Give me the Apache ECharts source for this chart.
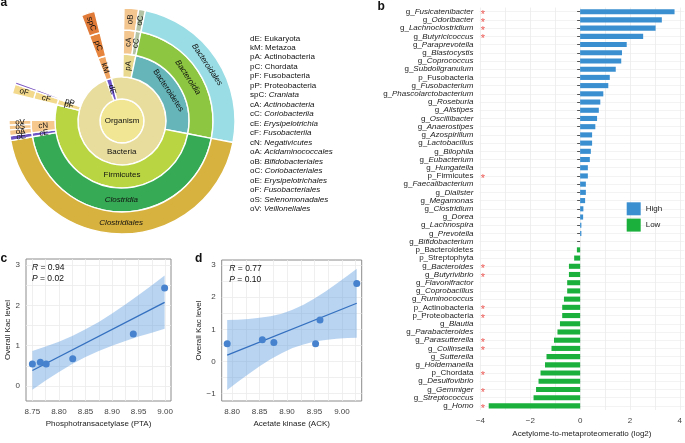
<!DOCTYPE html>
<html>
<head>
<meta charset="utf-8">
<script src="https://cdn.jsdelivr.net/npm/echarts@6/dist/echarts.min.js"></script>
<style>html,body{margin:0;padding:0;background:#fff}#main{width:685px;height:443px}</style>
</head>
<body>
<div id="main"></div>
<script>
var FONT = 'Liberation Sans, Arial, sans-serif';

// ---- a: taxonomy sunburst (values ~ angular share, degrees) ----
var taxonNames   = ['Organism','Bacteria','gap','pA','cA','oB','cC','oC','Bacteroidetes','Bacteroidia','Bacteroidales','Firmicutes','Clostridia','Clostridiales','cE','oE','cN','oA','oS','oV','pF','cF','oF','pP','pP_c','pP_o','dE','kM','pC','spC'];
var taxonParents = ['','Organism','Bacteria','Bacteria','pA','cA','pA','cC','Bacteria','Bacteroidetes','Bacteroidia','Bacteria','Firmicutes','Clostridia','Firmicutes','cE','Firmicutes','cN','cN','cN','Bacteria','pF','cF','Bacteria','pP','pP_c','Organism','dE','kM','pC'];
var taxonValues  = [360,353,15,11,7.5,7.5,3.5,3.5,89,89,89,183,159,159,2.5,2.5,8,3,2.5,2.5,5,5,5,1.3,1.3,1.3,7,7,7,7];

var legendCodes = ['dE','kM','pA','pC','pF','pP','spC','cA','cC','cE','cF','cN','oA','oB','oC','oE','oF','oS','oV'];
var legendTaxa  = ['Eukaryota','Metazoa','Actinobacteria','Chordata','Fusobacteria','Proteobacteria','Craniata','Actinobacteria','Coriobacteriia','Erysipelotrichia','Fusobacteriia','Negativicutes','Acidaminococcales','Bifidobacteriales','Coriobacteriales','Erysipelotrichales','Fusobacteriales','Selenomonadales','Veillonellales'];

// ---- b: acetylome / metaproteome ratio ----
var bTaxa = ['g_Fusicatenibacter','g_Odoribacter','g_Lachnoclostridium','g_Butyricicoccus','g_Paraprevotella','g_Blastocystis','g_Coprococcus','g_Subdoligranulum','p_Fusobacteria','g_Fusobacterium','g_Phascolarctobacterium','g_Roseburia','g_Alistipes','g_Oscillibacter','g_Anaerostipes','g_Azospirillum','g_Lactobacillus','g_Bilophila','g_Eubacterium','g_Hungatella','p_Firmicutes','g_Faecalibacterium','g_Dialister','g_Megamonas','g_Clostridium','g_Dorea','g_Lachnospira','g_Prevotella','g_Bifidobacterium','p_Bacteroidetes','p_Streptophyta','g_Bacteroides','g_Butyrivibrio','g_Flavonifractor','g_Coprobacillus','g_Ruminococcus','p_Actinobacteria','p_Proteobacteria','g_Blautia','g_Parabacteroides','g_Parasutterella','g_Collinsella','g_Sutterella','g_Holdemanella','p_Chordata','g_Desulfovibrio','g_Gemmiger','g_Streptococcus','g_Homo'];
var bRatio = [3.79,3.28,3.03,2.53,1.87,1.68,1.65,1.43,1.19,1.13,0.93,0.81,0.75,0.68,0.61,0.48,0.48,0.43,0.39,0.31,0.31,0.23,0.23,0.20,0.13,0.12,0.05,0.05,0,-0.13,-0.24,-0.45,-0.45,-0.52,-0.52,-0.65,-0.72,-0.72,-0.81,-0.91,-1.05,-1.15,-1.35,-1.41,-1.59,-1.67,-1.77,-1.87,-3.67];
var bStarred = ['g_Fusicatenibacter','g_Odoribacter','g_Lachnoclostridium','g_Butyricicoccus','p_Firmicutes','g_Bacteroides','g_Butyrivibrio','p_Actinobacteria','p_Proteobacteria','g_Parasutterella','g_Collinsella','p_Chordata','g_Gemmiger','g_Homo'];

// ---- c, d: Kac level vs enzyme abundance ----
var kacLevel = [0.55,0.59,0.55,0.68,1.29,2.43];
var ptaLevel = [8.750,8.765,8.776,8.826,8.940,8.999];
var ackLevel = [8.791,8.876,8.952,8.855,8.960,9.027];

var cFit = [[8.750,0.387],[8.999,2.076]];
var cBandX  = [8.75,8.775,8.80,8.825,8.85,8.875,8.90,8.925,8.95,8.975,8.999];
var cBandLo = [-0.09,0.14,0.35,0.55,0.72,0.87,1.00,1.12,1.23,1.32,1.42];
var cBandHi = [0.87,0.98,1.10,1.24,1.41,1.59,1.80,2.02,2.26,2.50,2.74];

var dFit = [[8.791,0.20],[9.027,1.813]];
var dBandX  = [8.791,8.81,8.83,8.85,8.87,8.89,8.91,8.93,8.95,8.97,8.99,9.01,9.027];
var dBandLo = [-0.89,-0.64,-0.39,-0.15,0.07,0.26,0.42,0.53,0.62,0.67,0.71,0.73,0.74];
var dBandHi = [1.29,1.30,1.32,1.36,1.41,1.49,1.61,1.77,1.96,2.18,2.42,2.67,2.89];

// styles
var taxonColors = {
  Organism:'#f0e694', Bacteria:'#e9dd9e', pA:'#e8d98e', cA:'#f3c690', oB:'#f3c690', cC:'#b3c3a3', oC:'#b3c3a3',
  Bacteroidetes:'#66b5b9', Bacteroidia:'#8dc640', Bacteroidales:'#9adde4',
  Firmicutes:'#b9d642', Clostridia:'#37aa55', Clostridiales:'#d8b23e',
  cE:'#6e55c6', oE:'#6e55c6', cN:'#f6c88e', oA:'#f6c88e', oS:'#f6c88e', oV:'#f6c88e',
  pF:'#f2d98c', cF:'#f2d98c', oF:'#f2d98c', pP:'#7a55c0', pP_c:'#7a55c0', pP_o:'#7a55c0',
  dE:'#6b52c8', kM:'#f0a35e', pC:'#e6843e', spC:'#e07a38'
};
var flatLabel = ['Organism','Clostridia','Clostridiales'];
var tangLabel = ['Bacteroidetes','Bacteroidia','Bacteroidales'];
var italLabel = ['Bacteroidia','Bacteroidales','Clostridia','Clostridiales'];
var noLabel = ['gap','pP_c','pP_o','Bacteria','Firmicutes'];

function buildNode(name) {
  var i = taxonNames.indexOf(name);
  var node = {
    name: name,
    value: taxonValues[i],
    itemStyle: taxonColors[name] ? {color: taxonColors[name]} : {color: 'rgba(0,0,0,0)', borderWidth: 0},
    label: {}
  };
  if (noLabel.indexOf(name) >= 0) node.label.show = false;
  if (flatLabel.indexOf(name) >= 0) node.label.rotate = 0;
  if (tangLabel.indexOf(name) >= 0) node.label.rotate = 'tangential';
  if (italLabel.indexOf(name) >= 0) node.label.fontStyle = 'italic';
  var kids = [];
  taxonNames.forEach(function (n, j) {
    if (taxonParents[j] === name) kids.push(buildNode(n));
  });
  if (kids.length) node.children = kids;
  return node;
}

function bandSeries(xi, bx, lo, hi) {
  return {
    type: 'custom', xAxisIndex: xi, yAxisIndex: xi, silent: true, z: 1,
    data: bx.map(function (x, i) { return [x, lo[i], hi[i]]; }),
    encode: {x: 0, y: [1, 2]},
    renderItem: function (params, api) {
      if (params.dataIndex !== 0) return;
      var pts = [];
      for (var i = 0; i < bx.length; i++) pts.push(api.coord([bx[i], hi[i]]));
      for (var j = bx.length - 1; j >= 0; j--) pts.push(api.coord([bx[j], lo[j]]));
      return {type: 'polygon', shape: {points: pts}, style: {fill: 'rgba(100,160,225,0.45)'}};
    }
  };
}

function minusFmt(v) { return v < 0 ? '\u2212' + (-v) : String(v); }

function scatterAxes(gi, xmin, xmax, xMajor, xAll, ymin, ymax, yMajor, yAll, xName) {
  return {
    x: {
      gridIndex: gi, type: 'value', min: xmin, max: xmax,
      axisLine: {show: false},
      axisTick: {show: false, customValues: xAll},
      axisLabel: {customValues: xMajor, formatter: function (v) { return v.toFixed(2); }, fontSize: 8, color: '#444', margin: 7, fontFamily: FONT},
      splitLine: {show: true, lineStyle: {color: '#ebebeb', width: 0.8}},
      name: xName, nameLocation: 'middle', nameGap: 19,
      nameTextStyle: {fontSize: 8, color: '#222', fontFamily: FONT}
    },
    y: {
      gridIndex: gi, type: 'value', min: ymin, max: ymax,
      axisLine: {show: false},
      axisTick: {show: false, customValues: yAll},
      axisLabel: {customValues: yMajor, formatter: minusFmt, fontSize: 8, color: '#444', margin: 6, fontFamily: FONT},
      splitLine: {show: true, lineStyle: {color: '#ebebeb', width: 0.8}},
      name: 'Overall Kac level', nameLocation: 'middle', nameGap: 13,
      nameTextStyle: {fontSize: 8, color: '#222', fontFamily: FONT}
    }
  };
}

var axC = scatterAxes(1, 8.738, 9.011, [8.75,8.80,8.85,8.90,8.95,9.00],
  [8.75,8.775,8.80,8.825,8.85,8.875,8.90,8.925,8.95,8.975,9.00],
  -0.37, 3.15, [0,1,2,3], [0,0.5,1,1.5,2,2.5,3], 'Phosphotransacetylase (PTA)');
var axD = scatterAxes(2, 8.781, 9.036, [8.80,8.85,8.90,8.95,9.00],
  [8.80,8.825,8.85,8.875,8.90,8.925,8.95,8.975,9.00,9.025],
  -1.23, 3.16, [-1,0,1,2,3], [-1,-0.5,0,0.5,1,1.5,2,2.5,3], 'Acetate kinase (ACK)');

// graphic texts
var graphics = [];
function addText(x, y, text, opts) {
  var st = {text: text, fontSize: 8, fontFamily: FONT, fill: '#111', align: 'left', verticalAlign: 'middle',
    rich: {i: {fontStyle: 'italic', fontSize: opts && opts.fs || 8, fontFamily: FONT, fill: '#111'}}};
  for (var k in opts) st[k] = opts[k];
  graphics.push({type: 'text', x: x, y: y, z: 100, silent: true, style: st});
}
addText(0.5, 3, 'a', {fontSize: 12, fontWeight: 'bold'});
addText(377.5, 6.5, 'b', {fontSize: 12, fontWeight: 'bold'});
addText(0.5, 259, 'c', {fontSize: 12, fontWeight: 'bold'});
addText(195, 259, 'd', {fontSize: 12, fontWeight: 'bold'});
legendCodes.forEach(function (c, k) {
  var t = k < 6 ? c + ': ' + legendTaxa[k] : c + ': {i|' + legendTaxa[k] + '}';
  addText(250, 38.3 + k * 9.48, t);
});
addText(121.7, 152, taxonNames[1], {align: 'center'});
addText(122, 175, taxonNames[11], {align: 'center'});
addText(32, 267.3, '{i|R} = 0.94', {fontSize: 8.5, fs: 8.5});
addText(32, 279, '{i|P} = 0.02', {fontSize: 8.5, fs: 8.5});
addText(229.3, 268.3, '{i|R} = 0.77', {fontSize: 8.5, fs: 8.5});
addText(229.3, 279.5, '{i|P} = 0.10', {fontSize: 8.5, fs: 8.5});

var chart = echarts.init(document.getElementById('main'));
var option = {
  animation: false,
  backgroundColor: '#fff',
  textStyle: {fontFamily: FONT},
  graphic: {elements: graphics},
  legend: {
    data: ['High', 'Low'], orient: 'vertical', left: 621.7, top: 197.3,
    itemWidth: 14, itemHeight: 13, itemGap: 3.3, icon: 'rect',
    textStyle: {fontSize: 8, color: '#222', fontFamily: FONT}
  },
  grid: [
    {left: 479.4, top: 7.6, width: 205.6, height: 404.7},
    {left: 26, top: 259, width: 145, height: 142, show: true, borderColor: '#8c8c8c', borderWidth: 1, backgroundColor: '#fff'},
    {left: 221.7, top: 260, width: 140, height: 141, show: true, borderColor: '#8c8c8c', borderWidth: 1, backgroundColor: '#fff'}
  ],
  xAxis: [
    {
      gridIndex: 0, type: 'value', min: -4.044, max: 4.184,
      axisLine: {show: false},
      axisTick: {show: false, customValues: [-4,-3,-2,-1,0,1,2,3,4]},
      axisLabel: {customValues: [-4,-2,0,2,4], formatter: minusFmt, fontSize: 8, color: '#444', margin: 7, fontFamily: FONT},
      splitLine: {show: true, lineStyle: {color: '#ebebeb', width: 0.8}},
      name: 'Acetylome-to-metaproteomeratio (log2)', nameLocation: 'middle', nameGap: 20,
      nameTextStyle: {fontSize: 8, color: '#222', fontFamily: FONT}
    },
    axC.x, axD.x
  ],
  yAxis: [
    {
      gridIndex: 0, type: 'category', inverse: true, data: bTaxa,
      axisLine: {show: false},
      axisTick: {show: true, alignWithLabel: true, interval: 0, length: 3, lineStyle: {color: '#555'}},
      axisLabel: {
        interval: 0, margin: 6,
        formatter: function (n) {
          return n.slice(0, 2) === 'g_' ? '{n|g_}{i|' + n.slice(2) + '}' : '{n|' + n + '}';
        },
        rich: {
          n: {fontSize: 8, color: '#222', fontFamily: FONT},
          i: {fontSize: 8, color: '#222', fontFamily: FONT, fontStyle: 'italic'}
        }
      },
      splitLine: {show: true, alignWithLabel: true, interval: 0, lineStyle: {color: '#f0f0f0', width: 0.8}}
    },
    axC.y, axD.y
  ],
  series: [
    {
      type: 'sunburst', center: [122, 121], radius: [0, 113], startAngle: 104, sort: null,
      nodeClick: false, silent: true, emphasis: {focus: 'none'},
      data: [buildNode('Organism')],
      itemStyle: {borderColor: '#fff', borderWidth: 1.4},
      label: {rotate: 'radial', fontSize: 8, color: '#111', fontFamily: FONT},
      levels: [{}, {r0: 0, r: 22}, {r0: 22, r: 44}, {r0: 44, r: 67}, {r0: 67, r: 91}, {r0: 91, r: 113}]
    },
    {
      name: 'High', type: 'bar', xAxisIndex: 0, yAxisIndex: 0, barWidth: '62%', barGap: '-100%',
      itemStyle: {color: '#3a8fd1'},
      data: bRatio.map(function (v) { return v > 0 ? v : '-'; })
    },
    {
      name: 'Low', type: 'bar', xAxisIndex: 0, yAxisIndex: 0, barWidth: '62%', barGap: '-100%',
      itemStyle: {color: '#1bb03c'},
      data: bRatio.map(function (v) { return v < 0 ? v : '-'; })
    },
    {
      type: 'scatter', xAxisIndex: 0, yAxisIndex: 0, symbolSize: 2, silent: true, z: 5,
      itemStyle: {color: 'rgba(0,0,0,0)'},
      data: bStarred.map(function (n) { return [-3.9, n]; }),
      label: {show: true, formatter: '*', color: '#e8302a', fontSize: 11, position: 'inside', offset: [0, 3], fontFamily: FONT}
    },
    bandSeries(1, cBandX, cBandLo, cBandHi),
    {type: 'line', xAxisIndex: 1, yAxisIndex: 1, data: cFit, symbol: 'none', silent: true, z: 2, lineStyle: {color: '#3470bf', width: 1.3}},
    {type: 'scatter', xAxisIndex: 1, yAxisIndex: 1, symbolSize: 7, z: 3, itemStyle: {color: '#4682cd', opacity: 1},
      data: ptaLevel.map(function (x, i) { return [x, kacLevel[i]]; })},
    bandSeries(2, dBandX, dBandLo, dBandHi),
    {type: 'line', xAxisIndex: 2, yAxisIndex: 2, data: dFit, symbol: 'none', silent: true, z: 2, lineStyle: {color: '#3470bf', width: 1.3}},
    {type: 'scatter', xAxisIndex: 2, yAxisIndex: 2, symbolSize: 7, z: 3, itemStyle: {color: '#4682cd', opacity: 1},
      data: ackLevel.map(function (x, i) { return [x, kacLevel[i]]; })}
  ]
};
chart.setOption(option);
</script>
</body>
</html>
